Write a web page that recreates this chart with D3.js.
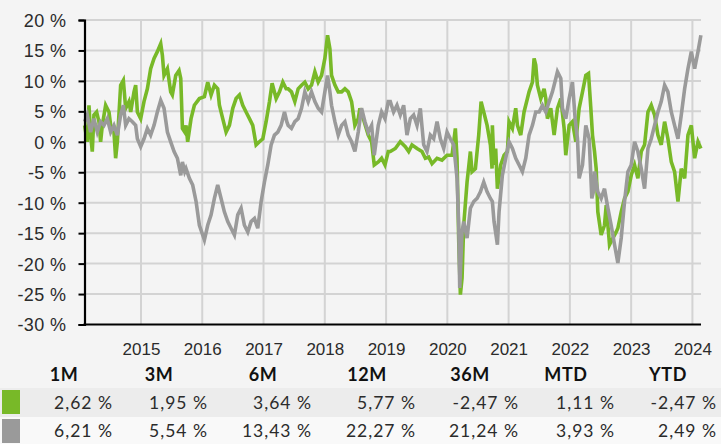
<!DOCTYPE html>
<html>
<head>
<meta charset="utf-8">
<script src="https://cdn.jsdelivr.net/npm/d3@7"></script>
<style>
  html, body { margin: 0; padding: 0; background: #f4f4f4; }
  svg { display: block; font-family: Lato, "Open Sans", sans-serif; }
</style>
</head>
<body>
<svg id="chart" width="721" height="444"></svg>
<script>
// Cumulative performance (%) of the fund (green) and its benchmark (grey), by decimal year
const fundYears = [
  2014.08, 2014.123, 2014.151, 2014.178, 2014.205, 2014.232, 2014.276, 2014.314, 2014.341, 2014.369,
  2014.423, 2014.478, 2014.505, 2014.559, 2014.586, 2014.614, 2014.668, 2014.712, 2014.750, 2014.804,
  2014.832, 2014.886, 2014.913, 2014.941, 2014.995, 2015.049, 2015.104, 2015.158, 2015.213, 2015.267,
  2015.322, 2015.349, 2015.376, 2015.431, 2015.485, 2015.512, 2015.567, 2015.621, 2015.649, 2015.676,
  2015.714, 2015.735, 2015.762, 2015.817, 2015.871, 2015.953, 2016.035, 2016.089, 2016.144, 2016.198,
  2016.252, 2016.280, 2016.334, 2016.389, 2016.443, 2016.498, 2016.552, 2016.607, 2016.661, 2016.715,
  2016.770, 2016.824, 2016.879, 2016.933, 2016.988, 2017.042, 2017.097, 2017.140, 2017.206, 2017.260,
  2017.315, 2017.369, 2017.402, 2017.456, 2017.511, 2017.565, 2017.620, 2017.674, 2017.729, 2017.783,
  2017.838, 2017.892, 2017.947, 2018.001, 2018.045, 2018.083, 2018.110, 2018.165, 2018.219, 2018.274,
  2018.328, 2018.382, 2018.437, 2018.491, 2018.546, 2018.573, 2018.628, 2018.709, 2018.764, 2018.807,
  2018.873, 2018.927, 2018.982, 2019.036, 2019.069, 2019.151, 2019.232, 2019.314, 2019.369, 2019.423,
  2019.505, 2019.586, 2019.641, 2019.695, 2019.750, 2019.832, 2019.913, 2019.995, 2020.077, 2020.131,
  2020.158, 2020.186, 2020.213, 2020.240, 2020.267, 2020.322, 2020.376, 2020.403, 2020.458, 2020.512,
  2020.551, 2020.594, 2020.649, 2020.703, 2020.730, 2020.735, 2020.762, 2020.789, 2020.817, 2020.871,
  2020.926, 2020.980, 2021.007, 2021.062, 2021.116, 2021.144, 2021.198, 2021.252, 2021.307, 2021.334,
  2021.389, 2021.416, 2021.443, 2021.470, 2021.525, 2021.579, 2021.607, 2021.634, 2021.688, 2021.743,
  2021.797, 2021.852, 2021.906, 2021.933, 2021.988, 2022.042, 2022.097, 2022.151, 2022.206, 2022.260,
  2022.304, 2022.342, 2022.369, 2022.402, 2022.429, 2022.456, 2022.511, 2022.565, 2022.593, 2022.647,
  2022.702, 2022.756, 2022.783, 2022.838, 2022.892, 2022.947, 2023.001, 2023.056, 2023.110, 2023.165,
  2023.219, 2023.274, 2023.328, 2023.382, 2023.437, 2023.491, 2023.546, 2023.600, 2023.655, 2023.709,
  2023.764, 2023.818, 2023.873, 2023.927, 2023.982, 2024.036, 2024.091, 2024.138
];
const fundValues = [
  2.7, 0.0, 6.0, 1.1, -1.6, 4.4, 4.9, 3.3, 0.0, 2.7,
  6.0, 4.9, 2.7, 1.6, -2.7, 0.0, 9.3, 10.1, 5.5, 6.6,
  4.9, 8.2, 9.3, 4.9, 3.8, 6.6, 8.7, 12.0, 13.7, 14.8,
  16.1, 14.2, 10.9, 12.0, 8.2, 7.7, 10.9, 11.7, 10.4, 2.2,
  1.6, 2.7, 0.0, 3.8, 6.0, 7.1, 7.4, 9.8, 7.7, 9.3,
  8.7, 6.0, 3.8, 1.6, 2.7, 5.5, 7.1, 7.7, 6.0, 4.9,
  3.8, 2.7, -0.5, 0.0, 0.5, 3.3, 6.6, 9.6, 7.1, 8.2,
  9.8, 8.7, 8.7, 8.2, 6.6, 8.7, 9.3, 9.8, 8.7, 9.3,
  11.5, 9.8, 10.9, 13.7, 17.5, 15.3, 10.9, 9.3, 8.2, 8.2,
  8.7, 8.2, 6.6, 2.7, 3.8, 5.5, 3.8, 1.1, 0.0, -3.8,
  -3.3, -2.7, -3.8, -1.6, -1.6, -1.1, 0.0, -0.8, -1.6, -0.5,
  -1.1, -1.6, -2.7, -2.5, -3.6, -2.7, -3.0, -2.2, -2.2, 2.2,
  -2.7, -16.4, -25.1, -22.4, -13.7, -6.6, -1.6, -4.9, -4.4, 1.1,
  6.6, 4.9, 2.7, -0.5, -4.4, 2.7, -3.8, -1.1, -7.7, -3.8,
  -2.2, -1.6, 3.3, 2.2, 5.5, 2.7, 1.1, 4.9, 7.1, 8.2,
  9.8, 13.7, 12.6, 9.3, 7.1, 8.7, 7.1, 3.8, 5.5, 1.1,
  5.5, 7.1, 2.2, -2.2, 2.7, 3.3, 0.0, 5.5, 8.2, 10.9,
  11.2, 5.5, 1.1, -1.6, -4.4, -11.5, -15.3, -13.7, -10.4, -16.9,
  -15.8, -14.8, -14.2, -11.5, -9.3, -8.2, -5.5, -3.8, -6.0, -1.6,
  -0.5, 4.9, 6.0, 4.4, 1.1, -0.5, 3.3, 0.5, -3.3, -4.9,
  -9.8, -4.4, -6.0, 1.1, 2.7, -2.7, 0.0, -1.1
];

const benchYears = [
  2014.08, 2014.123, 2014.178, 2014.232, 2014.287, 2014.341, 2014.396, 2014.450, 2014.505, 2014.559,
  2014.614, 2014.668, 2014.712, 2014.750, 2014.804, 2014.859, 2014.913, 2014.941, 2014.995, 2015.049,
  2015.104, 2015.158, 2015.213, 2015.267, 2015.322, 2015.376, 2015.431, 2015.485, 2015.540, 2015.594,
  2015.649, 2015.676, 2015.714, 2015.735, 2015.790, 2015.844, 2015.899, 2015.953, 2016.035, 2016.089,
  2016.144, 2016.198, 2016.252, 2016.307, 2016.361, 2016.416, 2016.470, 2016.525, 2016.579, 2016.634,
  2016.688, 2016.743, 2016.797, 2016.852, 2016.906, 2016.961, 2017.015, 2017.069, 2017.124, 2017.178,
  2017.233, 2017.287, 2017.342, 2017.380, 2017.402, 2017.456, 2017.511, 2017.565, 2017.620, 2017.674,
  2017.729, 2017.783, 2017.838, 2017.892, 2017.947, 2018.001, 2018.045, 2018.083, 2018.110, 2018.165,
  2018.219, 2018.274, 2018.328, 2018.382, 2018.437, 2018.491, 2018.546, 2018.600, 2018.655, 2018.709,
  2018.764, 2018.807, 2018.873, 2018.927, 2018.982, 2019.036, 2019.069, 2019.123, 2019.178, 2019.232,
  2019.287, 2019.341, 2019.396, 2019.450, 2019.505, 2019.559, 2019.614, 2019.668, 2019.723, 2019.777,
  2019.832, 2019.886, 2019.941, 2019.995, 2020.049, 2020.104, 2020.158, 2020.186, 2020.202, 2020.240,
  2020.267, 2020.322, 2020.376, 2020.431, 2020.485, 2020.540, 2020.594, 2020.649, 2020.703, 2020.735,
  2020.762, 2020.817, 2020.844, 2020.898, 2020.953, 2021.007, 2021.062, 2021.116, 2021.171, 2021.225,
  2021.280, 2021.334, 2021.389, 2021.443, 2021.498, 2021.552, 2021.607, 2021.661, 2021.715, 2021.770,
  2021.797, 2021.852, 2021.879, 2021.933, 2021.988, 2022.042, 2022.086, 2022.124, 2022.151, 2022.206,
  2022.260, 2022.315, 2022.358, 2022.396, 2022.402, 2022.456, 2022.511, 2022.565, 2022.620, 2022.674,
  2022.729, 2022.783, 2022.838, 2022.892, 2022.947, 2023.001, 2023.056, 2023.110, 2023.165, 2023.219,
  2023.274, 2023.328, 2023.382, 2023.437, 2023.491, 2023.546, 2023.600, 2023.655, 2023.709, 2023.764,
  2023.818, 2023.873, 2023.927, 2023.982, 2024.036, 2024.091, 2024.138
];
const benchValues = [
  3.3, 4.4, 1.6, 3.8, 1.6, 3.3, 2.7, 3.8, 1.6, 2.7,
  1.1, 4.4, 6.0, 2.7, 3.8, 3.3, 2.7, 0.5, -0.8, 0.5,
  2.2, 1.1, 2.7, 4.9, 6.8, 5.5, 1.6, 0.0, -1.6, -2.7,
  -5.5, -3.3, -4.9, -4.4, -6.0, -7.1, -9.8, -13.7, -16.1, -13.7,
  -12.0, -9.3, -7.1, -9.3, -11.5, -13.1, -14.2, -15.3, -12.0, -10.9,
  -13.7, -14.8, -13.1, -12.6, -14.2, -9.8, -6.6, -3.8, -0.5, 1.1,
  1.6, 2.7, 4.9, 3.3, 2.7, 2.2, 3.3, 3.8, 5.5, 8.2,
  6.6, 8.2, 6.6, 5.5, 4.9, 8.2, 10.9, 8.2, 6.0, 3.3,
  1.1, 2.7, 3.3, 1.1, 0.0, -1.6, 1.6, 5.5, 3.3, 1.6,
  2.7, -2.2, 2.7, 4.9, 3.8, 6.6, 6.6, 4.9, 6.0, 4.4,
  6.0, 1.1, 3.8, 4.4, 2.7, 5.5, -0.5, -1.6, 1.1, 0.5,
  3.3, 0.5, -1.1, 1.6, 0.5, -0.5, -6.0, -13.7, -24.0, -14.8,
  -13.1, -15.8, -10.9, -9.8, -9.3, -8.2, -6.6, -8.2, -9.3, -9.8,
  -13.1, -16.9, -11.5, -5.5, -2.7, 0.0, -1.1, -2.7, -3.8, -4.9,
  -2.7, 1.1, 2.7, 4.9, 4.9, 6.0, 4.9, 6.6, 8.2, 10.4,
  11.5, 10.4, 5.5, 3.8, 7.1, 9.8, 3.8, 0.5, -6.0, -3.8,
  2.7, 0.5, -9.3, -7.7, -4.9, -8.2, -9.3, -7.7, -10.9, -13.7,
  -16.9, -19.9, -15.8, -9.8, -4.9, -3.8, 0.0, -1.6, -4.4, -7.7,
  -1.1, 0.5, 2.7, 4.9, 6.6, 9.3, 8.2, 4.9, 2.7, 0.5,
  4.4, 8.7, 12.0, 14.8, 12.0, 14.8, 17.5
];

// Axis ticks
const yearTicks = [2015, 2016, 2017, 2018, 2019, 2020, 2021, 2022, 2023, 2024];
const percentTicks = [-30, -25, -20, -15, -10, -5, 0, 5, 10, 15, 20];

// Performance table
const periods = ["1M", "3M", "6M", "12M", "36M", "MTD", "YTD"];
const fundReturns = [2.62, 1.95, 3.64, 5.77, -2.47, 1.11, -2.47];
const benchReturns = [6.21, 5.54, 13.43, 22.27, 21.24, 3.93, 2.49];

const GREEN = "#78b928";
const GREY = "#9a9a9a";
const TEXT = "#2b2b2b";

const svg = d3.select("#chart");

const plot = { left: 84.5, right: 701, top: 20, bottom: 324.5 };

const x = d3.scaleLinear().domain([2014.078, 2024.14]).range([plot.left, plot.right]);
const y = d3.scaleLinear().domain([-30, 20]).range([plot.bottom, plot.top]);

const pct = v => String(v).replace("\u2212", "-") + " %";

// Grid
const grid = svg.append("g").attr("stroke", "#d3d3d3").attr("stroke-width", 2);
grid.selectAll("line.h").data(percentTicks.filter(d => d !== -30)).join("line")
  .attr("x1", plot.left).attr("x2", plot.right)
  .attr("y1", d => y(d)).attr("y2", d => y(d));
grid.selectAll("line.v").data(yearTicks).join("line")
  .attr("x1", d => x(d)).attr("x2", d => x(d))
  .attr("y1", plot.top).attr("y2", plot.bottom);

// Series: fund first, benchmark drawn on top
const line = d3.line().x(d => x(d[0])).y(d => y(d[1]));
const fundSeries = d3.zip(fundYears, fundValues);
const benchSeries = d3.zip(benchYears, benchValues);

svg.append("path").datum(fundSeries)
  .attr("fill", "none").attr("stroke", GREEN).attr("stroke-width", 3.6)
  .attr("stroke-linejoin", "miter").attr("d", line);
svg.append("path").datum(benchSeries)
  .attr("fill", "none").attr("stroke", GREY).attr("stroke-width", 3.6)
  .attr("stroke-linejoin", "miter").attr("d", line);

// Y axis
const yAxis = svg.append("g")
  .attr("transform", `translate(${plot.left},0)`)
  .call(d3.axisLeft(y).tickValues(percentTicks).tickSize(6).tickPadding(12)
    .tickFormat(d => pct(d)));
yAxis.select(".domain").attr("stroke", "#000").attr("stroke-width", 2.2);
yAxis.selectAll(".tick line").attr("stroke", "#000").attr("stroke-width", 2);
yAxis.selectAll(".tick text").attr("fill", TEXT)
  .style("font-size", "18px").style("letter-spacing", "0.4px").attr("dy", "0.36em");

// X axis
const xAxis = svg.append("g")
  .attr("transform", `translate(0,${plot.bottom})`)
  .call(d3.axisBottom(x).tickValues(yearTicks).tickSize(0).tickPadding(18)
    .tickFormat(d3.format("d")));
xAxis.select(".domain").attr("stroke", "#000").attr("stroke-width", 2.2)
  .attr("d", `M${plot.left - 1},0H${plot.right}`);
xAxis.selectAll(".tick text").attr("fill", TEXT).style("font-size", "17px");

// Table: right edge of each column's cells (auto-sized columns)
const colRight = [113, 208, 312, 416, 519, 615, 717];
const rowTop = { fund: 388, bench: 417 };

svg.append("rect").attr("x", 0).attr("y", rowTop.fund).attr("width", 721).attr("height", 29)
  .attr("fill", "#ececec");
svg.append("rect").attr("x", 0).attr("y", rowTop.bench).attr("width", 721).attr("height", 27)
  .attr("fill", "#f9f9f9");

svg.append("rect").attr("x", 2).attr("y", rowTop.fund + 2).attr("width", 18).attr("height", 24)
  .attr("fill", GREEN);
svg.append("rect").attr("x", 2).attr("y", rowTop.bench + 2).attr("width", 18).attr("height", 24)
  .attr("fill", GREY);

svg.append("g").selectAll("text").data(periods).join("text")
  .attr("x", (d, i) => colRight[i] - 49)
  .attr("y", 381)
  .attr("text-anchor", "middle")
  .attr("fill", "#111")
  .style("font-size", "18px").style("font-weight", "bold").style("letter-spacing", "0.6px")
  .text(d => d);

const fmtReturn = v => v.toFixed(2).replace(".", ",") + " %";

[[fundReturns, 409], [benchReturns, 437]].forEach(([vals, base]) => {
  svg.append("g").selectAll("text").data(vals).join("text")
    .attr("x", (d, i) => colRight[i])
    .attr("y", base)
    .attr("text-anchor", "end")
    .attr("fill", TEXT)
    .style("font-size", "17.5px").style("letter-spacing", "1px")
    .text(d => fmtReturn(d));
});
</script>
</body>
</html>
